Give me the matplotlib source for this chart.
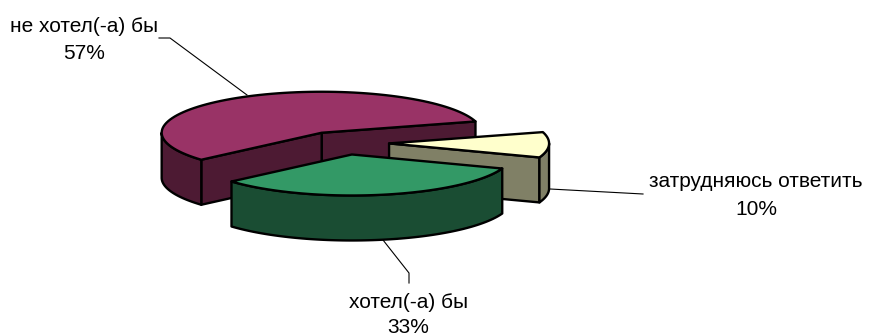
import numpy as np
import matplotlib
matplotlib.use("Agg")
import matplotlib.pyplot as plt
from matplotlib.patches import Polygon

categories = ["не хотел(-а) бы", "хотел(-а) бы", "затрудняюсь ответить"]
values = [57, 33, 10]

top_colors = ["#993366", "#339966", "#FFFFCC"]
side_colors = ["#4D1A33", "#1A4D33", "#808066"]
# x centre, baseline of the name, baseline of the percentage
label_pos = [(84.5, 32, 59), (408.5, 308, 333), (756, 187, 215)]
leaders = [[(159, 38), (170, 38), (247, 95)],
           [(383, 240), (409, 273), (409, 283)],
           [(550, 189), (643, 194)]]

W, H = 869, 335
CX, CY, RX, RY = 343.5, 143, 160, 41
DEPTH, EXPLODE, START = 45, 0.285, 16
EDGE = dict(edgecolor="black", linewidth=1.7, joinstyle="round")

plt.rcParams["font.family"] = ["Liberation Sans", "DejaVu Sans"]
fig = plt.figure(figsize=(W / 100, H / 100), dpi=100)
ax = fig.add_axes([0, 0, 1, 1])
ax.set_xlim(0, W)
ax.set_ylim(H, 0)
ax.axis("off")


def rim(c, a0, a1):
    t = np.radians(np.linspace(a0, a1, 90))
    return np.column_stack([c[0] + RX * np.cos(t), c[1] - RY * np.sin(t)])


def poly(pts, color, z):
    ax.add_patch(Polygon(pts, closed=True, facecolor=color, zorder=z, **EDGE))


def down(pts):
    return np.asarray(pts) + [0, DEPTH]


def side_wall(pts, color, z):
    pts = np.asarray(pts)
    poly(np.vstack([pts, down(pts)[::-1]]), color, z)


fractions = np.array(values) / sum(values)
edges = START + 360 * np.concatenate([[0], np.cumsum(fractions)])
draw_order = {0: 1, 2: 2, 1: 3}

for i, val in enumerate(values):
    a0, a1 = edges[i], edges[i + 1]
    mid = np.radians((a0 + a1) / 2)
    c = np.array([CX + EXPLODE * RX * np.cos(mid), CY - EXPLODE * RY * np.sin(mid)])
    z = draw_order[i] * 10
    side = side_colors[i]

    # cut faces that look towards the viewer
    if np.sin(np.radians(a0)) > 0 or i == 2:
        side_wall([c, rim(c, a0, a0)[0]], side, z)
    if i == 0:
        side_wall([c, rim(c, a1, a1)[0]], side, z)
    # visible part of the outer wall (lower half of ellipse)
    lo = max(a0, 180)
    hi = min(a1, 360)
    if hi > lo:
        side_wall(rim(c, lo, hi), side, z + 1)
    # top
    poly(np.vstack([[c], rim(c, a0, a1)]), top_colors[i], z + 2)

for line in leaders:
    xs, ys = zip(*line)
    ax.plot(xs, ys, color="black", lw=0.8, zorder=50)

for cat, val, (x, y1, y2) in zip(categories, values, label_pos):
    ax.text(x, y1, cat, ha="center", va="baseline", fontsize=15, color="black", zorder=60)
    ax.text(x, y2, f"{val}%", ha="center", va="baseline", fontsize=15, color="black", zorder=60)

fig.savefig("out.png", dpi=100, facecolor="white")
